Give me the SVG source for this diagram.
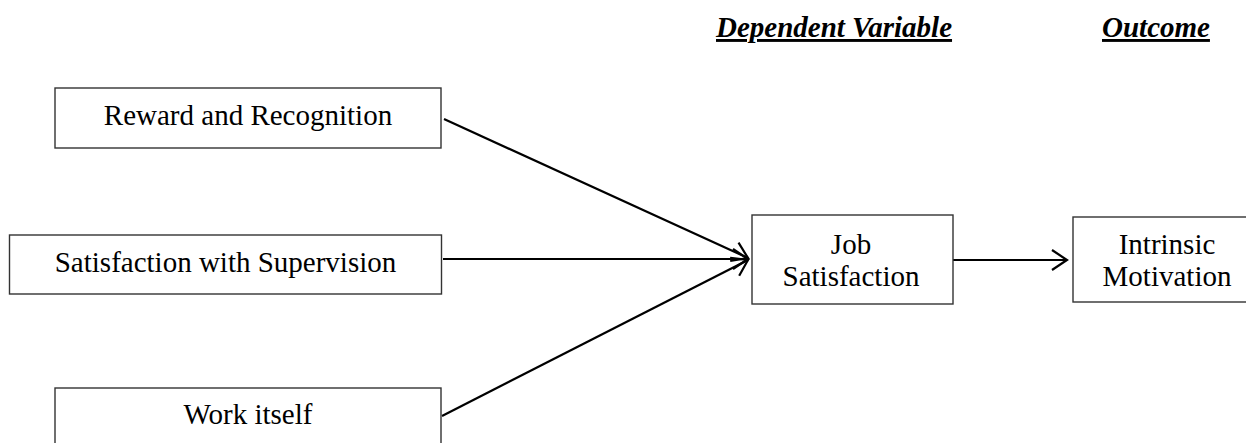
<svg xmlns="http://www.w3.org/2000/svg" width="1246" height="443" viewBox="0 0 1246 443">
<style>
  .box { fill: #fff; stroke: #333; stroke-width: 1.4; }
  .lbl { font-family: "Liberation Serif", "Times New Roman", serif; font-size: 29px; fill: #000; text-anchor: middle; }
  .hdr { font-family: "Liberation Serif", "Times New Roman", serif; font-size: 29px; font-weight: bold; font-style: italic; fill: #000; text-decoration: underline; }
  .conn { stroke: #000; stroke-width: 2.2; fill: none; marker-end: url(#arrow); }
</style>
<defs>
  <marker id="arrow" markerUnits="userSpaceOnUse" viewBox="-20 -15 25 30" markerWidth="25" markerHeight="30" refX="0" refY="0" orient="auto">
    <path d="M-15,-10 L0,0 L-15,10" fill="none" stroke="#000" stroke-width="2.2"/>
  </marker>
</defs>
<rect width="1246" height="443" fill="#fff"/>
<g id="headers">
  <text class="hdr" x="716" y="37">Dependent Variable</text>
  <text class="hdr" x="1102" y="37">Outcome</text>
</g>
<g id="connectors">
  <line class="conn" x1="444" y1="119" x2="748" y2="258"/>
  <line class="conn" x1="443" y1="259" x2="748" y2="259"/>
  <line class="conn" x1="442" y1="416" x2="748" y2="260"/>
  <line class="conn" x1="953" y1="260" x2="1067" y2="260"/>
</g>
<g id="reward">
  <rect class="box" x="55" y="88" width="386" height="60"/>
  <text class="lbl" x="248" y="125">Reward and Recognition</text>
</g>
<g id="supervision">
  <rect class="box" x="9.5" y="235" width="432" height="59"/>
  <text class="lbl" x="225.5" y="272">Satisfaction with Supervision</text>
</g>
<g id="work">
  <rect class="box" x="55" y="388" width="386" height="70"/>
  <text class="lbl" x="248" y="424">Work itself</text>
</g>
<g id="job">
  <rect class="box" x="752" y="215" width="201" height="89"/>
  <text class="lbl" x="851" y="254">Job</text>
  <text class="lbl" x="851" y="286">Satisfaction</text>
</g>
<g id="intrinsic">
  <rect class="box" x="1073" y="217" width="190" height="85"/>
  <text class="lbl" x="1167" y="254">Intrinsic</text>
  <text class="lbl" x="1167" y="286">Motivation</text>
</g>
</svg>
